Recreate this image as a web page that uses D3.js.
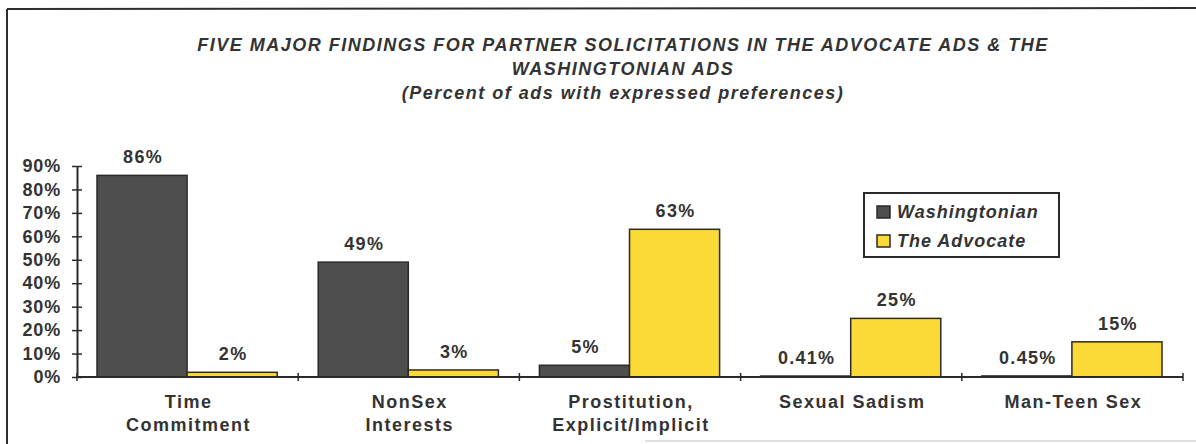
<!DOCTYPE html>
<html>
<head>
<meta charset="utf-8">
<script src="https://cdn.jsdelivr.net/npm/d3@7"></script>
<style>
  html, body { margin: 0; padding: 0; background: #fff; }
  svg { display: block; font-family: "Liberation Sans", Arial, sans-serif; }
</style>
</head>
<body>
<svg id="chart" width="1196" height="444"></svg>
<script>
// ---- data ----
const categories = ["Time Commitment", "NonSex Interests", "Prostitution, Explicit/Implicit", "Sexual Sadism", "Man-Teen Sex"];
const categoryLines = [["Time", "Commitment"], ["NonSex", "Interests"], ["Prostitution,", "Explicit/Implicit"], ["Sexual Sadism"], ["Man-Teen Sex"]];
const seriesNames = ["Washingtonian", "The Advocate"];
const washingtonian = [86, 49, 5, 0.41, 0.45];
const advocate = [2, 3, 63, 25, 15];
const washingtonianLabels = ["86%", "49%", "5%", "0.41%", "0.45%"];
const advocateLabels = ["2%", "3%", "63%", "25%", "15%"];
const yTicks = [0, 10, 20, 30, 40, 50, 60, 70, 80, 90];
const titleLines = [
  "FIVE MAJOR FINDINGS FOR PARTNER SOLICITATIONS IN THE ADVOCATE ADS & THE",
  "WASHINGTONIAN ADS",
  "(Percent of ads with expressed preferences)"
];

// ---- styles ----
const seriesColors = ["#4e4e4e", "#fbd936"];
const ink = "#333";

const svg = d3.select("#chart");

// frame (scanned border)
svg.append("line").attr("x1", 7).attr("x2", 7).attr("y1", 9).attr("y2", 444)
  .attr("stroke", "#2e2e2e").attr("stroke-width", 2);
svg.append("line").attr("x1", 7).attr("x2", 1196).attr("y1", 9).attr("y2", 8)
  .attr("stroke", "#2e2e2e").attr("stroke-width", 2);
svg.append("line").attr("x1", 645).attr("x2", 1196).attr("y1", 441).attr("y2", 441)
  .attr("stroke", "#d4d4d4").attr("stroke-width", 1.5);

// title
svg.append("g").selectAll("text").data(titleLines).join("text")
  .attr("x", 623)
  .attr("y", (d, i) => 51 + i * 24)
  .attr("text-anchor", "middle")
  .attr("font-size", 18)
  .attr("font-weight", "bold")
  .attr("font-style", "italic")
  .attr("letter-spacing", 1.5)
  .attr("fill", ink)
  .text(d => d);

// scales
const x0 = d3.scaleBand().domain(categories).range([77, 1183]).padding(0);
const bw = x0.bandwidth();
const x1 = d3.scaleBand().domain(seriesNames).range([20, bw - 21]).padding(0);
const y = d3.scaleLinear().domain([0, 90]).range([377, 166]);

// bars
const seriesData = [washingtonian, advocate];
const seriesLabels = [washingtonianLabels, advocateLabels];
const gBars = svg.append("g");
seriesNames.forEach((s, si) => {
  const g = gBars.append("g");
  g.selectAll("rect").data(categories).join("rect")
    .attr("x", c => x0(c) + x1(s))
    .attr("width", x1.bandwidth())
    .attr("y", (c, i) => y(seriesData[si][i]))
    .attr("height", (c, i) => y(0) - y(seriesData[si][i]))
    .attr("fill", seriesColors[si])
    .attr("stroke", "#2a2a2a")
    .attr("stroke-width", 1.5);
  g.selectAll("text").data(categories).join("text")
    .attr("x", c => x0(c) + x1(s) + x1.bandwidth() / 2 + 1)
    .attr("y", (c, i) => y(seriesData[si][i]) - 12)
    .attr("text-anchor", "middle")
    .attr("font-size", 18)
    .attr("font-weight", "bold")
    .attr("letter-spacing", 1.3)
    .attr("fill", ink)
    .text((c, i) => seriesLabels[si][i]);
});

// y axis
const yAxis = svg.append("g").attr("transform", "translate(77,0)")
  .call(d3.axisLeft(y).tickValues(yTicks).tickFormat(d => d + "%").tickSizeInner(5).tickSizeOuter(0).tickPadding(11));
yAxis.select(".domain").attr("stroke", "#2a2a2a").attr("stroke-width", 2);
yAxis.selectAll(".tick line").attr("x1", 5).attr("stroke", "#2a2a2a").attr("stroke-width", 1.5);
yAxis.selectAll(".tick text")
  .attr("font-size", 18).attr("font-weight", "bold").attr("letter-spacing", 0.8)
  .attr("fill", ink).attr("font-family", "Liberation Sans, Arial, sans-serif");

// x axis
const xAxis = svg.append("g").attr("transform", "translate(0,377)");
xAxis.append("line").attr("x1", 77).attr("x2", 1183).attr("y1", 0).attr("y2", 0)
  .attr("stroke", "#2a2a2a").attr("stroke-width", 2);
const boundaries = categories.map(c => x0(c)).concat([x0(categories[categories.length - 1]) + bw]);
xAxis.selectAll("line.tk").data(boundaries).join("line").attr("class", "tk")
  .attr("x1", d => d).attr("x2", d => d).attr("y1", -4).attr("y2", 4)
  .attr("stroke", "#2a2a2a").attr("stroke-width", 1.5);

// category labels
const gCat = svg.append("g");
categories.forEach((c, i) => {
  gCat.append("g").selectAll("text").data(categoryLines[i]).join("text")
    .attr("x", x0(c) + bw / 2 + 1)
    .attr("y", (d, j) => 408 + j * 23)
    .attr("text-anchor", "middle")
    .attr("font-size", 18)
    .attr("font-weight", "bold")
    .attr("letter-spacing", 1.5)
    .attr("fill", ink)
    .text(d => d);
});

// legend
const legend = svg.append("g");
legend.append("rect").attr("x", 864).attr("y", 193).attr("width", 195).attr("height", 64)
  .attr("fill", "#fff").attr("stroke", "#2a2a2a").attr("stroke-width", 2);
const li = legend.selectAll("g.item").data(seriesNames).join("g").attr("class", "item")
  .attr("transform", (d, i) => `translate(877,${206 + i * 29})`);
li.append("rect").attr("width", 13).attr("height", 12)
  .attr("fill", (d, i) => seriesColors[i]).attr("stroke", "#2a2a2a").attr("stroke-width", 1.5);
li.append("text").attr("x", 20).attr("y", 12)
  .attr("font-size", 18).attr("font-weight", "bold").attr("font-style", "italic")
  .attr("letter-spacing", 1).attr("fill", ink)
  .text(d => d);
</script>
</body>
</html>
